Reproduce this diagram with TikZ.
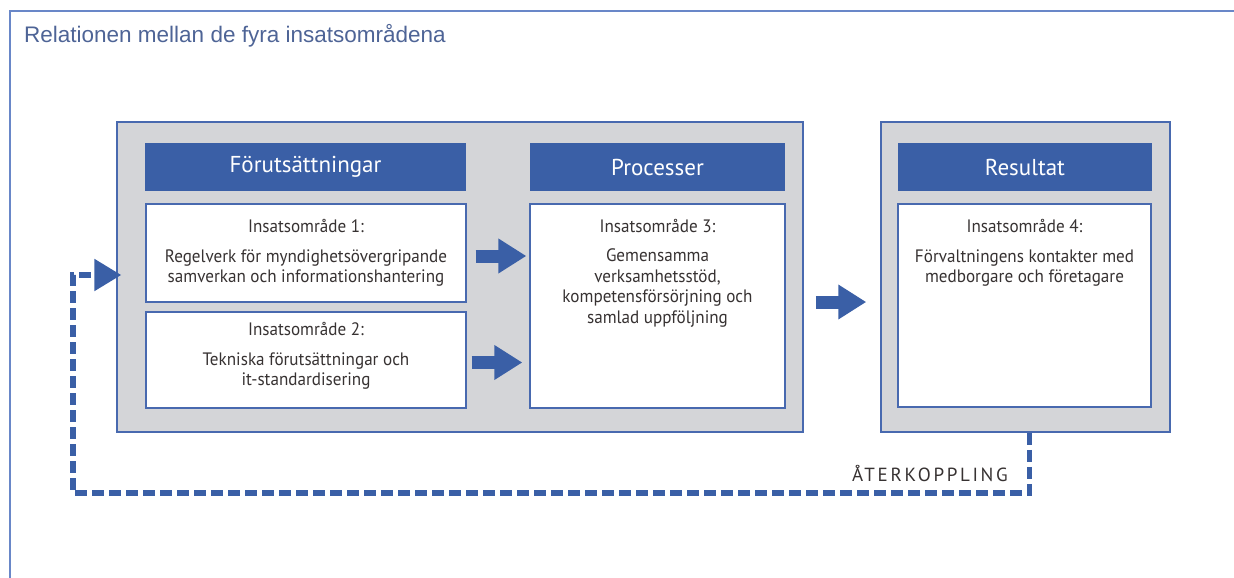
\documentclass[tikz,border=0pt]{standalone}
\usepackage{fontspec}
\setmainfont{Liberation Sans}
\newfontfamily\boxfont[FakeStretch=0.95]{PT Sans}
\newfontfamily\hdrfont{PT Sans}
\newfontfamily\spacedfont[LetterSpace=14]{PT Sans}
\usetikzlibrary{arrows.meta,calc}
\definecolor{hdrblue}{RGB}{58,95,166}
\definecolor{lineblue}{RGB}{72,105,175}
\definecolor{framelight}{RGB}{105,135,200}
\definecolor{panelgray}{RGB}{212,213,216}
\definecolor{titleblue}{RGB}{78,100,150}
\definecolor{txtgray}{RGB}{55,50,50}
\tikzset{
  graybox/.style={draw=lineblue,line width=1.5pt,fill=panelgray,inner sep=0pt},
  hdr/.style={fill=hdrblue,text=white,inner sep=0pt,font=\hdrfont\fontsize{23}{26}\selectfont},
  wbox/.style={draw=lineblue,line width=1.3pt,fill=white,inner sep=0pt},
  boxtxt/.style={text=txtgray,inner sep=0pt,align=center,anchor=north,font=\boxfont\fontsize{18}{20.5}\selectfont},
  bigarr/.style={draw=hdrblue,line width=13pt,-{Triangle[length=28pt,width=33pt]}},
  fb/.style={draw=hdrblue,line width=5.5pt,dash pattern=on 12pt off 5pt,-{Triangle[length=27pt,width=31pt]}}
}
\begin{document}
\begin{tikzpicture}[x=1pt,y=-1pt]
\clip (0,0) rectangle (1234,578);
\draw[framelight,line width=1.5pt] (10,11) rectangle (1260,600);
\node[anchor=base west,text=titleblue,inner sep=0pt,font=\fontsize{22.5}{26}\selectfont] (title) at (24,42.5) {Relationen mellan de fyra insatsområdena};

\node[graybox,minimum width=686pt,minimum height=310pt] (g1) at (460,277) {};
\node[graybox,minimum width=289pt,minimum height=310pt] (g2) at (1025.5,277) {};

\node[hdr,minimum width=321pt,minimum height=48pt] (h1) at (305.5,167) {Förutsättningar};
\node[hdr,minimum width=255pt,minimum height=48pt] (h2) at (657.5,167) {Processer};
\node[hdr,minimum width=254pt,minimum height=48pt] (h3) at (1025,167) {Resultat};

\node[wbox,minimum width=320pt,minimum height=98pt] (b1) at (306,253) {};
\node[wbox,minimum width=320pt,minimum height=96pt] (b2) at (306,360) {};
\node[wbox,minimum width=255pt,minimum height=204pt] (b3) at (657.5,306) {};
\node[wbox,minimum width=253pt,minimum height=203pt] (b4) at (1024.5,305.5) {};

\node[boxtxt] (t1) at ($(b1.north)+(0,16)$) {Insatsområde 1:\\[9pt]Regelverk för myndighetsövergripande\\samverkan och informationshantering};
\node[boxtxt] (t2) at ($(b2.north)+(0,10.5)$) {Insatsområde 2:\\[9.5pt]Tekniska förutsättningar och\\it-standardisering};
\node[boxtxt] (t3) at ($(b3.north)+(0,16)$) {Insatsområde 3:\\[8.5pt]Gemensamma\\verksamhetsstöd,\\kompetensförsörjning och\\samlad uppföljning};
\node[boxtxt] (t4) at ($(b4.north)+(0,16)$) {Insatsområde 4:\\[9pt]Förvaltningens kontakter med\\medborgare och företagare};

\draw[bigarr,shorten <=9pt,shorten >=3pt] ([yshift=-3pt]b1.east) -- ([yshift=-3pt]b1.east -| b3.west);
\draw[bigarr,shorten <=5pt,shorten >=7pt] ([yshift=-2.5pt]b2.east) -- ([yshift=-2.5pt]b2.east -| b3.west);
\draw[bigarr,shorten <=12pt,shorten >=14pt] ([yshift=4pt]b3.east -| g1.east) -- ([yshift=4pt]b3.east -| g2.west);

\coordinate (fbcorner) at (73,493);
\draw[fb,shorten >=-5pt] ([xshift=4pt]g2.south) |- (fbcorner) |- ([yshift=2pt]g1.west);
\node[anchor=base east,inner sep=0pt,text=txtgray,font=\spacedfont\fontsize{19}{22}\selectfont] (fbl) at (1008,481.5) {ÅTERKOPPLING};
\end{tikzpicture}
\end{document}
